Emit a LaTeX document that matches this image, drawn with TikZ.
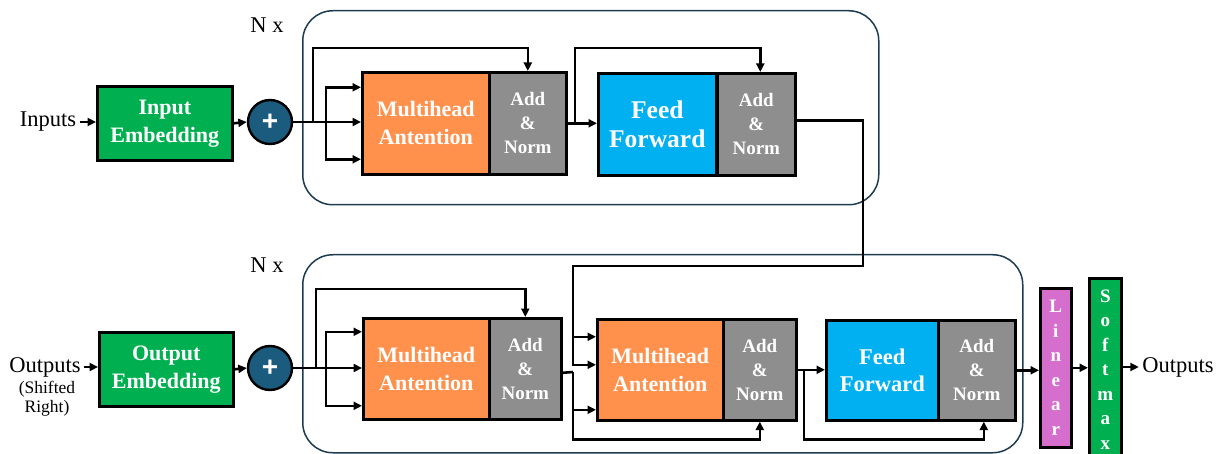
\documentclass[tikz,border=0pt]{standalone}
\usepackage{fontspec}
\setmainfont{Liberation Serif}
\newfontfamily\plusfont{Liberation Sans}
\usetikzlibrary{arrows.meta,calc}
\definecolor{embgreen}{RGB}{0,176,80}
\definecolor{mhaorange}{RGB}{255,145,77}
\definecolor{normgray}{RGB}{142,142,142}
\definecolor{ffblue}{RGB}{0,176,240}
\definecolor{plusblue}{RGB}{27,92,126}
\definecolor{linpink}{RGB}{214,110,205}
\definecolor{contblue}{RGB}{30,60,80}
\begin{document}
\begin{tikzpicture}[x=1pt,y=-1pt,
  blk/.style={draw=black, line width=2.6pt, text=white, align=center,
    inner sep=0pt, anchor=north west,
    font=\bfseries\fontsize{22}{28}\selectfont},
  addnorm/.style={blk, fill=normgray, font=\bfseries\fontsize{19}{24}\selectfont},
  vert/.style={blk, font=\bfseries\fontsize{19}{24.5}\selectfont},
  plus/.style={circle, draw=black, line width=2.4pt, fill=plusblue,
    minimum size=44pt, inner sep=0pt, text=white,
    font=\plusfont\bfseries\fontsize{28}{28}\selectfont},
  cont/.style={draw=contblue, line width=1.5pt, rounded corners=30pt,
    anchor=north west, inner sep=0pt},
  lbl/.style={font=\fontsize{22.5}{26}\selectfont},
  wire/.style={line width=2.6pt},
  arr/.style={wire, -{Triangle[length=8.5pt,width=8pt]}}]
\useasboundingbox (0,0) rectangle (1220,454);

% ---------------- encoder ----------------
\node[cont, minimum width=576pt, minimum height=194pt] (enc) at (302,10) {};
\node[lbl] (nx1) at (267,25) {N x};
\node[lbl] (in) at (48,122) {Inputs};
\node[blk, fill=embgreen, minimum width=135pt, minimum height=74pt] (ie) at (96,85) {Input\\Embedding};
\node[plus] (pe) at (270,122) {+};
\node[blk, fill=mhaorange, minimum width=127pt, minimum height=102pt] (mha) at (361,71) {Multihead\\Antention};
\node[addnorm, minimum width=77pt, minimum height=102pt] (an1) at (488,71) {Add\\\&\\Norm};
\node[blk, fill=ffblue, font=\bfseries\fontsize{25.5}{29}\selectfont,
  minimum width=118pt, minimum height=102pt] (ff) at (597,72) {Feed\\Forward};
\node[addnorm, minimum width=78pt, minimum height=102pt] (an2) at (716,72) {Add\\\&\\Norm};

\coordinate (e1) at (313,122);
\coordinate (e2) at (326,122);
\coordinate (e3) at (575,122);
\coordinate (x1) at (863,266);
\coordinate (x2) at (573,266);

\draw[arr] (in.east) -- (in.east -| ie.west);
\draw[arr] (ie.east) -- (pe.west);
\draw[arr] (pe.east) -- (pe.east -| mha.west);
\draw[arr] (e1) |- ($(an1.north)+(0,-23)$) -- (an1.north);
\draw[arr] (e2) |- ($(mha.west)+(0,-36)$);
\draw[arr] (e2) |- ($(mha.west)+(0,36)$);
\draw[arr] (an1.east) -- (an1.east -| ff.west);
\draw[arr] (e3) |- ($(an2.north)+(4,-24)$) -- ($(an2.north)+(4,0)$);

% ---------------- decoder ----------------
\node[cont, minimum width=720pt, minimum height=198pt] (dec) at (302,254) {};
\node[lbl] (nx2) at (267,265) {N x};
\node[lbl] (oin) at (45,367) {Outputs};
\node[font=\fontsize{17.5}{19}\selectfont, align=center, inner sep=0pt] (shr) at (47,399) {(Shifted\\Right)};
\node[blk, fill=embgreen, minimum width=134pt, minimum height=74pt] (oe) at (98,331) {Output\\Embedding};
\node[plus] (pd) at (270,368) {+};
\node[blk, fill=mhaorange, minimum width=126pt, minimum height=101pt] (dm1) at (362,317) {Multihead\\Antention};
\node[addnorm, minimum width=72pt, minimum height=101pt] (da1) at (488,317) {Add\\\&\\Norm};
\node[blk, fill=mhaorange, minimum width=126pt, minimum height=101pt] (dm2) at (596,318) {Multihead\\Antention};
\node[addnorm, minimum width=73pt, minimum height=101pt] (da2) at (722,318) {Add\\\&\\Norm};
\node[blk, fill=ffblue, font=\bfseries\fontsize{22.5}{27}\selectfont,
  minimum width=112pt, minimum height=100pt] (dff) at (825,319) {Feed\\Forward};
\node[addnorm, minimum width=77pt, minimum height=100pt] (da3) at (937,319) {Add\\\&\\Norm};
\node[vert, fill=linpink, minimum width=31pt, minimum height=159pt] (lin) at (1039,287) {L\\i\\n\\e\\a\\r};
\node[vert, fill=embgreen, minimum width=32pt, minimum height=182pt] (sm) at (1088,277) {S\\o\\f\\t\\m\\a\\x};
\node[lbl] (oout) at (1178,367) {Outputs};

\coordinate (d1) at (316,368);
\coordinate (d2) at (326,368);
\coordinate (d3) at (573,372);
\coordinate (d5) at (804,369);

\draw[arr] (oin.east) -- (oin.east -| oe.west);
\draw[arr] (oe.east) -- (pd.west);
\draw[arr] (pd.east) -- (pd.east -| dm1.west);
\draw[arr] (d1) |- ($(da1.north)+(0,-28)$) -- (da1.north);
\draw[arr] (d2) |- ($(dm1.west)+(0,-37)$);
\draw[arr] (d2) |- ($(dm1.west)+(0,37)$);

% encoder output feeds the second attention block
\draw[arr] ($(an2.east)+(0,-4)$) -| (x1) -- (x2) |- ($(dm2.west)+(0,-5)$);
\draw[arr] (x2) |- ($(dm2.west)+(0,-33)$);

\draw[wire] ($(da1.east)+(0,4)$) -- (d3);
\draw[arr] (d3) |- ($(da2.south)+(0,18)$) -- (da2.south);
\draw[arr] (d3) |- ($(dm2.west)+(0,40)$);
\draw[arr] (da2.east) -- (da2.east -| dff.west);
\draw[arr] (d5) |- ($(da3.south)+(7,18)$) -- ($(da3.south)+(7,0)$);
\draw[arr] (da3.east) -- (da3.east -| lin.west);
\draw[arr] (lin.east) -- (lin.east -| sm.west);
\draw[arr] (sm.east |- oout.west) -- (oout.west);
\end{tikzpicture}
\end{document}
